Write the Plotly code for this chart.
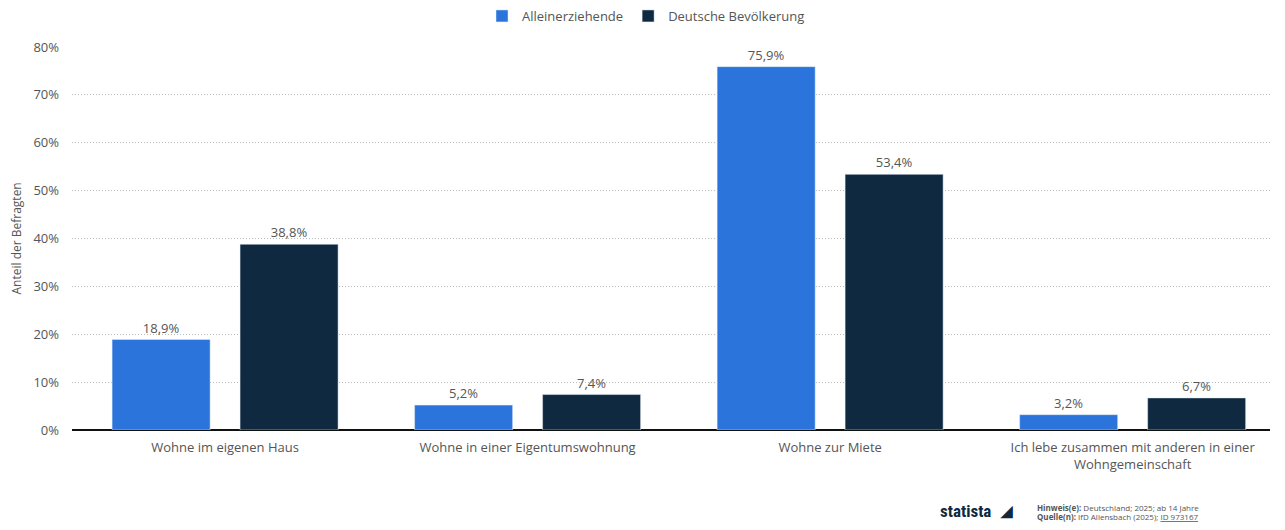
import plotly.graph_objects as go

categories = ["Wohne im eigenen Haus", "Wohne in einer Eigentumswohnung", "Wohne zur Miete",
              "Ich lebe zusammen mit anderen in einer<br>Wohngemeinschaft"]
alleinerziehende = [18.9, 5.2, 75.9, 3.2]
bevoelkerung = [38.8, 7.4, 53.4, 6.7]
y_ticks = [0, 10, 20, 30, 40, 50, 60, 70, 80]
y_tick_labels = [f"{v}%" for v in y_ticks]

def fmt(v):
    return f"{v:.1f}%".replace(".", ",")

FONT = "Open Sans"
W, H = 1269, 514            # page has 8px body margin
L, R, TOP, BOTTOM = 64, 1262, 39, 422
def py(pixel_y):
    return (BOTTOM - pixel_y) / (BOTTOM - TOP)
def px(pixel_x):
    return (pixel_x - L) / (R - L)

fig = go.Figure()
fig.add_trace(go.Bar(x=categories, y=alleinerziehende, name="Alleinerziehende",
                     marker_color="#2a74db", text=[fmt(v) for v in alleinerziehende],
                     textposition="outside", textfont=dict(color="#555", size=13, family=FONT),
                     cliponaxis=False))
fig.add_trace(go.Bar(x=categories, y=bevoelkerung, name="Deutsche Bevölkerung",
                     marker_color="#0f2a40", text=[fmt(v) for v in bevoelkerung],
                     textposition="outside", textfont=dict(color="#555", size=13, family=FONT),
                     cliponaxis=False))

fig.update_layout(
    width=W, height=H,
    margin=dict(l=L, r=W - R, t=TOP, b=H - BOTTOM, autoexpand=False),
    paper_bgcolor="white", plot_bgcolor="white",
    font=dict(family=FONT, color="#555", size=13),
    barmode="group", bargap=0.154, bargroupgap=0.234,
    legend=dict(orientation="h", x=px(638), xanchor="center", y=1 - 8 / H, yanchor="middle",
                yref="container", font=dict(size=13, color="#555"),
                traceorder="normal", itemwidth=30),
    xaxis=dict(showgrid=False, tickfont=dict(size=13, color="#555"), ticks="",
               showline=False, automargin=False, ticklabelstandoff=8,
               range=[-0.506, 3.454]),
    yaxis=dict(range=[0, 80], tickvals=y_ticks, ticktext=y_tick_labels,
               showgrid=True, gridcolor="#bbb", griddash="1px,2px", gridwidth=1,
               zeroline=True, zerolinecolor="#111", zerolinewidth=2,
               tickfont=dict(size=13, color="#555"), ticklabelstandoff=12,
               automargin=False),
)

fig.add_annotation(x=px(8), y=0.5, xref="paper", yref="paper", textangle=-90,
                   xanchor="center", yanchor="middle", showarrow=False,
                   text="Anteil der Befragten", font=dict(size=12, color="#555"))
fig.add_annotation(x=px(985), y=py(503), xref="paper", yref="paper",
                   xanchor="right", yanchor="middle",
                   text="<b>statista</b>", showarrow=False,
                   font=dict(family="Roboto Condensed, Roboto", size=17, color="#0f2a40"))
fig.add_annotation(x=px(998), y=py(502), xref="paper", yref="paper",
                   text="<b>◢</b>", showarrow=False, yanchor="middle", xanchor="center",
                   font=dict(size=15, color="#0f2a40"))
fig.add_annotation(x=px(1027), y=py(499), xref="paper", yref="paper",
                   xanchor="left", yanchor="middle", showarrow=False,
                   text="<b>Hinweis(e):</b> Deutschland; 2025; ab 14 Jahre",
                   font=dict(size=8, color="#555"))
fig.add_annotation(x=px(1027), y=py(509), xref="paper", yref="paper",
                   xanchor="left", yanchor="middle", showarrow=False,
                   text="<b>Quelle(n):</b> IfD Allensbach (2025); <u>ID 973167</u>",
                   font=dict(size=8, color="#555"))

fig.write_html("out.html")
